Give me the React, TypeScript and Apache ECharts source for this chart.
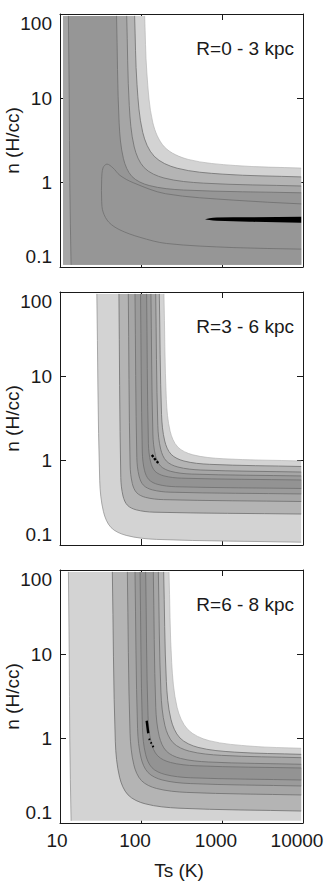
import React, { useEffect, useRef } from 'react';
import * as echarts from 'echarts';

type Pt = [number, number];

// ---------- axes ----------
const T_RANGE: [number, number] = [10, 10000];
const N_RANGE: [number, number] = [0.1, 100];
// extent of the sampled (T, n) grid behind the contour fills
const T_MIN = 10.9, T_MAX = 9500, N_MIN = 0.106, N_MAX = 95;

const PANEL_LABELS = ['R=0 - 3 kpc', 'R=3 - 6 kpc', 'R=6 - 8 kpc'];
const X_NAME = 'Ts (K)';
const Y_NAME = 'n (H/cc)';

// ---------- panel 1 (R=0-3 kpc) contour curves, [Ts, n] ----------
const p1B1: Pt[] = [[111, 95], [118.3, 19.8], [139.9, 5.16], [195.6, 2.64], [382.8, 1.887], [1466, 1.596], [9500, 1.489]];
const p1B2: Pt[] = [[83.4, 95], [89.3, 14.5], [105.1, 3.94], [145.5, 2.055], [279.1, 1.484], [1026, 1.261], [9500, 1.17]];
const p1B3: Pt[] = [[66.6, 95], [71.65, 8.18], [82.5, 2.65], [109.4, 1.506], [192.3, 1.136], [594, 0.987], [9500, 0.913]];
const p1B4: Pt[] = [[49.9, 95], [53.7, 5.11], [60.7, 1.924], [77.5, 1.181], [126.3, 0.925], [335.3, 0.818], [9500, 0.758]];
const p1S: Pt[] = [[12.7, 95], [13.0, 10], [13.2, 1], [13.7, 0.106]];
const p1Loop: Pt[] = [[9500, 0.56], [1400, 0.62], [200, 0.74], [80, 1.0], [55, 1.22], [45, 1.5], [38, 1.66], [34, 1.5], [32.7, 1.1], [32.7, 0.6], [34, 0.45], [40, 0.34], [55, 0.275], [97, 0.225], [207, 0.19], [1370, 0.17], [9500, 0.163]];
const p1BestTop: Pt[] = [[617, 0.369], [700, 0.378], [860, 0.386], [2200, 0.389], [9500, 0.394]];
const p1BestBot: Pt[] = [[617, 0.369], [700, 0.36], [860, 0.354], [2200, 0.344], [9500, 0.335]];

// ---------- panel 2 (R=3-6 kpc) ----------
const p2B1: Pt[] = [[192, 95], [205.6, 5.3], [228.8, 2.24], [283.8, 1.455], [436.5, 1.173], [1033, 1.054], [9500, 0.992]];
const p2B2: Pt[] = [[168.3, 95], [179.3, 3.54], [196.3, 1.71], [235.5, 1.189], [338.8, 0.991], [701.5, 0.905], [9500, 0.853]];
const p2B3: Pt[] = [[151.8, 95], [161.2, 2.63], [174.9, 1.371], [205.8, 0.989], [285.1, 0.841], [547, 0.775], [9500, 0.733]];
const p2B4: Pt[] = [[132.6, 95], [140.2, 2.07], [150.7, 1.156], [174.4, 0.864], [233.3, 0.747], [417.8, 0.694], [9500, 0.659]];
const p2B5: Pt[] = [[117.3, 95], [123.4, 1.596], [131.5, 0.964], [149.1, 0.749], [191.9, 0.66], [317.7, 0.62], [9500, 0.59]];
const p2A5: Pt[] = [[98.7, 95], [103.8, 1.265], [110.6, 0.764], [125.5, 0.594], [161.4, 0.523], [267.3, 0.491], [9500, 0.468]];
const p2A4: Pt[] = [[84.3, 95], [88.8, 1.089], [94.6, 0.658], [107.3, 0.511], [138, 0.4506], [228.6, 0.423], [9500, 0.403]];
const p2A3: Pt[] = [[69.7, 95], [73.35, 0.887], [78.1, 0.536], [88.6, 0.416], [114, 0.367], [188.8, 0.345], [9500, 0.328]];
const p2A2: Pt[] = [[53.4, 95], [56.3, 0.631], [60, 0.381], [68, 0.296], [87.5, 0.261], [144.9, 0.245], [9500, 0.233]];
const p2A1: Pt[] = [[28.5, 95], [30.9, 0.586], [34.4, 0.248], [42.7, 0.161], [65.6, 0.13], [155.2, 0.1166], [9500, 0.108]];
const p2Best: Pt[] = [[136, 1.17], [148, 1.05], [163, 0.94]];

// ---------- panel 3 (R=6-8 kpc) ----------
const p3B1: Pt[] = [[221.8, 95], [239.3, 7.98], [278.8, 2.36], [378.1, 1.284], [695, 0.947], [2350, 0.813], [9500, 0.769]];
const p3B2: Pt[] = [[190.5, 95], [205.6, 4.78], [233.8, 1.706], [302.4, 1.02], [505.8, 0.788], [1416, 0.693], [9500, 0.652]];
const p3B3: Pt[] = [[163.7, 95], [176.2, 3.56], [197.7, 1.419], [248.9, 0.895], [394.5, 0.711], [990.8, 0.634], [9500, 0.595]];
const p3B4: Pt[] = [[141.9, 95], [152.1, 2.36], [168.1, 1.063], [205.3, 0.713], [305.8, 0.584], [679.2, 0.529], [9500, 0.497]];
const p3B5: Pt[] = [[114.2, 95], [122, 1.866], [133.7, 0.902], [160.4, 0.627], [230.7, 0.5224], [477.5, 0.477], [9500, 0.449]];
const p3A5: Pt[] = [[97.3, 95], [104.1, 1.347], [114, 0.651], [136.8, 0.452], [196.8, 0.377], [407.4, 0.344], [9500, 0.3236]];
const p3A4: Pt[] = [[84.3, 95], [90.7, 1.31], [100.2, 0.59], [122.3, 0.396], [182.3, 0.324], [404.9, 0.2936], [9500, 0.2748]];
const p3A3: Pt[] = [[67.8, 95], [73.25, 1.159], [81.55, 0.49], [101.2, 0.3184], [155.6, 0.2567], [368.1, 0.2306], [9500, 0.2149]];
const p3A2: Pt[] = [[44.26, 95], [48.2, 0.917], [54.4, 0.349], [69.25, 0.2153], [112.2, 0.169], [294.9, 0.1498], [9500, 0.1387]];
const p3A1: Pt[] = [[12.7, 95], [13.0, 10], [13.2, 1], [13.7, 0.106]];
const p3BestDash: Pt[] = [[117.5, 1.63], [123, 1.16]];
const p3BestDots: Pt[] = [[126, 1.0], [135, 0.87], [145, 0.77]];

// ---------- styling ----------
const FONT = '"Liberation Sans", Arial, Helvetica, sans-serif';
const FS = 19;
const INK = '#1a1a1a';
const C1 = '#d3d3d3', C2 = '#b4b4b4', C3 = '#a6a6a6', C4 = '#9b9b9b', C5 = '#939393', CMAIN = '#969696';
const LINE = '#6e6e6e', FAINT = '#adadad', EDGE = '#8a8a8a';
const GRID_LEFT = 60, GRID_W = 243, GRID_H = 253;
const GRID_TOPS = [14, 292, 570];

type Layer = {
  kind: 'under' | 'band' | 'line';
  a: Pt[];
  b?: Pt[];
  corners?: Pt[];
  fill?: string;
  stroke?: string;
  width?: number;
  dash?: number[];
};

const fillUnder = (a: Pt[], fill: string): Layer => ({ kind: 'under', a, fill });
const fillBand = (a: Pt[], b: Pt[], fill: string, corners?: Pt[]): Layer => ({ kind: 'band', a, b, fill, corners });
const stroke = (a: Pt[], s = LINE, width = 0.8, dash?: number[]): Layer => ({ kind: 'line', a, stroke: s, width, dash });

const PANELS: Layer[][] = [
  [
    fillUnder(p1B1, C1),
    fillUnder(p1B2, C2),
    fillUnder(p1B3, C3),
    fillBand(p1B4, p1S, CMAIN, [[T_MAX, N_MIN]]),
    fillBand(p1BestTop, p1BestBot, '#000000'),
    stroke(p1B1, FAINT, 0.6),
    stroke(p1B2), stroke(p1B3), stroke(p1B4), stroke(p1S), stroke(p1Loop),
  ],
  [
    fillBand(p2B1, p2A1, C1),
    fillBand(p2B2, p2A2, C2),
    fillBand(p2B3, p2A3, C3),
    fillBand(p2B4, p2A4, C4),
    fillBand(p2B5, p2A5, C5),
    stroke(p2B1, FAINT, 0.6), stroke(p2A1, EDGE, 0.7),
    stroke(p2B2), stroke(p2B3), stroke(p2B4), stroke(p2B5),
    stroke(p2A2), stroke(p2A3), stroke(p2A4), stroke(p2A5),
    stroke(p2Best, '#000000', 2.4, [2.5, 1.5]),
  ],
  [
    fillBand(p3B1, p3A1, C1, [[T_MAX, N_MIN]]),
    fillBand(p3B2, p3A2, C2),
    fillBand(p3B3, p3A3, C3),
    fillBand(p3B4, p3A4, C4),
    fillBand(p3B5, p3A5, C5),
    stroke(p3B1, FAINT, 0.6), stroke(p3A1, EDGE, 0.7),
    stroke(p3B2), stroke(p3B3), stroke(p3B4), stroke(p3B5),
    stroke(p3A2), stroke(p3A3), stroke(p3A4), stroke(p3A5),
    stroke(p3BestDash, '#000000', 2.4),
    stroke(p3BestDots, '#000000', 2, [1.5, 2.5]),
  ],
];

const f = (v: number) => v.toFixed(2);

// smooth curve through pixel points (chord-length Catmull-Rom as cubic Beziers)
function curveCmds(P: number[][]): string {
  const n = P.length;
  if (n < 2) return '';
  const d: number[] = [];
  for (let i = 0; i < n - 1; i++) d.push(Math.hypot(P[i + 1][0] - P[i][0], P[i + 1][1] - P[i][1]) || 1e-6);
  const m: number[][] = [];
  for (let i = 0; i < n; i++) {
    if (i === 0) m.push([(P[1][0] - P[0][0]) / d[0], (P[1][1] - P[0][1]) / d[0]]);
    else if (i === n - 1) m.push([(P[i][0] - P[i - 1][0]) / d[i - 1], (P[i][1] - P[i - 1][1]) / d[i - 1]]);
    else {
      const s = d[i - 1] + d[i];
      m.push([(P[i + 1][0] - P[i - 1][0]) / s, (P[i + 1][1] - P[i - 1][1]) / s]);
    }
  }
  let out = '';
  for (let i = 0; i < n - 1; i++) {
    const k = d[i] / 3;
    out += ` C${f(P[i][0] + m[i][0] * k)} ${f(P[i][1] + m[i][1] * k)} ${f(P[i + 1][0] - m[i + 1][0] * k)} ${f(P[i + 1][1] - m[i + 1][1] * k)} ${f(P[i + 1][0])} ${f(P[i + 1][1])}`;
  }
  return out;
}

function makeRender(layers: Layer[]) {
  return (_params: any, api: any) => {
    const L = layers[api.value(2)];
    const c = (p: Pt) => api.coord(p) as number[];
    const A = L.a.map(c);
    let d: string;
    if (L.kind === 'under') {
      const p0 = c([T_MIN, N_MAX]), p1 = c([T_MAX, N_MIN]), p2 = c([T_MIN, N_MIN]);
      d = `M${f(p0[0])} ${f(p0[1])} L${f(A[0][0])} ${f(A[0][1])}` + curveCmds(A) +
        ` L${f(p1[0])} ${f(p1[1])} L${f(p2[0])} ${f(p2[1])} Z`;
    } else if (L.kind === 'band') {
      d = `M${f(A[0][0])} ${f(A[0][1])}` + curveCmds(A);
      (L.corners || []).forEach((q) => {
        const p = c(q);
        d += ` L${f(p[0])} ${f(p[1])}`;
      });
      const B = (L.b as Pt[]).map(c).reverse();
      d += ` L${f(B[0][0])} ${f(B[0][1])}` + curveCmds(B) + ' Z';
    } else {
      d = `M${f(A[0][0])} ${f(A[0][1])}` + curveCmds(A);
    }
    return {
      type: 'path',
      shape: { pathData: d },
      style: {
        fill: L.kind === 'line' ? 'none' : L.fill,
        stroke: L.kind === 'line' ? L.stroke : 'none',
        lineWidth: L.kind === 'line' ? L.width : 0,
        lineDash: L.dash,
      },
    };
  };
}

const near = (a: number, b: number) => Math.abs(a - b) < 1e-6 * Math.max(1, b);
const rb = { fontSize: FS, fontFamily: FONT, color: INK };

const xFmt = (v: number) => {
  if (near(v, 10)) return '{s|10}';
  return '{n|' + String(Math.round(v)) + '}';
};
const yFmt = (v: number) => {
  if (near(v, 0.1)) return '{lo|0.1}';
  if (near(v, 100)) return '{hi|100}';
  return '{n|' + (v < 1 ? v.toFixed(1) : String(Math.round(v))) + '}';
};

function buildOption() {
  const lineStyle = { color: INK, width: 1 };
  const tick = { show: true, inside: true, length: 6, lineStyle: { color: INK, width: 1 } };
  const xAxis: any[] = [];
  const yAxis: any[] = [];
  GRID_TOPS.forEach((_, i) => {
    const last = i === GRID_TOPS.length - 1;
    const xCommon = {
      type: 'log', logBase: 10, gridIndex: i, min: T_RANGE[0], max: T_RANGE[1],
      axisLine: { show: true, onZero: false, lineStyle },
      axisTick: tick,
      splitLine: { show: false },
      minorTick: { show: false },
      minorSplitLine: { show: false },
    };
    xAxis.push({
      ...xCommon,
      position: 'bottom',
      axisLabel: {
        show: last, margin: 8, showMinLabel: true, showMaxLabel: true,
        fontSize: FS, fontFamily: FONT, color: INK,
        formatter: xFmt,
        rich: { n: { ...rb, padding: [0, 12, 0, 0] }, s: { ...rb, padding: [0, 6, 0, 0] } },
      },
      name: last ? X_NAME : '',
      nameLocation: 'middle',
      nameGap: 38,
      nameMoveOverlap: false,
      nameTextStyle: { fontSize: FS, fontFamily: FONT, color: INK, padding: [0, 5, 0, 0] },
    });
    xAxis.push({ ...xCommon, position: 'top', axisLabel: { show: false } });
    const yCommon = {
      type: 'log', logBase: 10, gridIndex: i, min: N_RANGE[0], max: N_RANGE[1],
      axisLine: { show: true, onZero: false, lineStyle },
      axisTick: tick,
      splitLine: { show: false },
      minorTick: { show: false },
      minorSplitLine: { show: false },
    };
    yAxis.push({
      ...yCommon,
      position: 'left',
      axisLabel: {
        show: true, margin: 8, showMinLabel: true, showMaxLabel: true,
        fontSize: FS, fontFamily: FONT, color: INK,
        formatter: yFmt,
        rich: {
          n: rb,
          lo: { ...rb, padding: [0, 0, 22, 0] },
          hi: { ...rb, padding: [18, 0, 0, 0] },
        },
      },
      name: Y_NAME,
      nameLocation: 'middle',
      nameGap: 38,
      nameMoveOverlap: false,
      nameTextStyle: { fontSize: FS, fontFamily: FONT, color: INK },
    });
    yAxis.push({ ...yCommon, position: 'right', axisLabel: { show: false } });
  });

  return {
    animation: false,
    textStyle: { fontFamily: FONT },
    grid: GRID_TOPS.map((t) => ({
      left: GRID_LEFT, top: t, width: GRID_W, height: GRID_H, show: false, outerBoundsMode: 'none',
    })),
    xAxis,
    yAxis,
    graphic: PANEL_LABELS.map((s, i) => ({
      type: 'text',
      x: 294,
      y: GRID_TOPS[i] + 34,
      style: { text: s, fontSize: FS, fontFamily: FONT, fill: INK, align: 'right', verticalAlign: 'middle' },
    })),
    series: PANELS.map((layers, i) => ({
      type: 'custom',
      coordinateSystem: 'cartesian2d',
      xAxisIndex: 2 * i,
      yAxisIndex: 2 * i,
      clip: true,
      silent: true,
      animation: false,
      encode: { x: 0, y: 1 },
      data: layers.map((_, k) => [100, 1, k]),
      renderItem: makeRender(layers),
    })),
  };
}

export default function App() {
  const ref = useRef<HTMLDivElement>(null);
  useEffect(() => {
    if (!ref.current) return;
    const chart = echarts.init(ref.current, undefined, { renderer: 'svg' });
    chart.setOption(buildOption() as any);
    return () => chart.dispose();
  }, []);
  return (
    <div
      ref={ref}
      style={{ position: 'absolute', left: 0, top: 0, width: 327, height: 881, background: '#ffffff' }}
    />
  );
}
